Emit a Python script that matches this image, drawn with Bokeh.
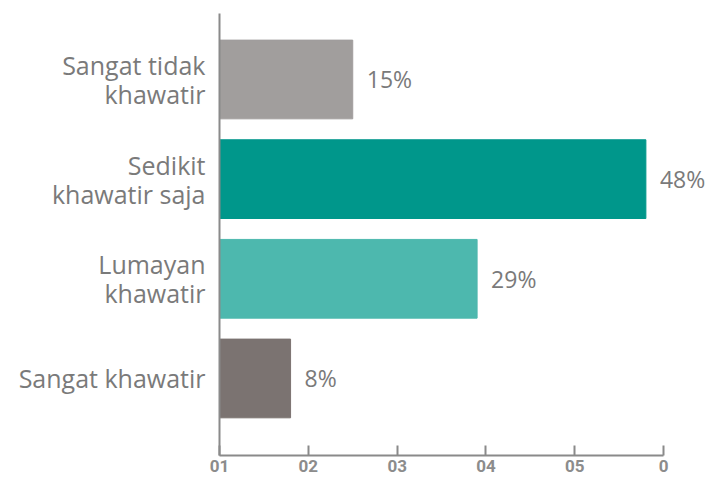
from bokeh.plotting import figure
from bokeh.models import Range1d, FixedTicker, ColumnDataSource
from bokeh.embed import file_html
from bokeh.resources import INLINE
from bokeh.core.properties import value

categories = ["Sangat tidak\nkhawatir", "Sedikit\nkhawatir saja", "Lumayan\nkhawatir", "Sangat khawatir"]
values = [15, 48, 29, 8]
value_labels = ["15%", "48%", "29%", "8%"]
colors = ["#a19e9d", "#00978b", "#4db8ae", "#7b7371"]
x_ticks = [0, 10, 20, 30, 40, 50]
x_tick_labels = ["01", "02", "03", "04", "05", "0"]

n = len(categories)
pos = [n - 1 - i for i in range(n)]  # top to bottom

src = ColumnDataSource(dict(cat=categories, val=values, lab=value_labels, col=colors, pos=pos))

FONT = "Open Sans"
GRAY = "#8a8a8a"

p = figure(width=712, height=483, output_backend="svg", toolbar_location=None,
           x_range=Range1d(0, 55.5), y_range=Range1d(-0.773, 3.662),
           min_border_left=219, min_border_right=0, min_border_top=13, min_border_bottom=28)

p.hbar(y="pos", right="val", left=0, height=0.79, color="col", source=src)
p.text(x="val", y="pos", text="lab", source=src, x_offset=14, text_align="left",
       text_baseline="middle", text_font=value(FONT), text_font_size="23px", text_color="#7a7a7a")

p.outline_line_color = None
p.xgrid.grid_line_color = None
p.ygrid.grid_line_color = None
p.background_fill_color = "white"

xa = p.xaxis[0]
xa.ticker = FixedTicker(ticks=x_ticks)
xa.major_label_overrides = {t: l for t, l in zip(x_ticks, x_tick_labels)}
xa.bounds = (0, 50)
xa.axis_line_color = GRAY
xa.axis_line_width = 2
xa.major_tick_line_color = GRAY
xa.major_tick_line_width = 2
xa.major_tick_in = 10
xa.major_tick_out = 0
xa.minor_tick_line_color = None
xa.major_label_text_align = "left"
xa.major_label_standoff = 4
xa.major_label_text_font = "Roboto"
xa.major_label_text_font_size = "17px"
xa.major_label_text_font_style = "bold"
xa.major_label_text_color = "#8c8c8c"

ya = p.yaxis[0]
ya.ticker = FixedTicker(ticks=pos)
ya.major_label_overrides = {pp: c for pp, c in zip(pos, categories)}
ya.axis_line_color = GRAY
ya.axis_line_width = 2
ya.major_tick_line_color = None
ya.minor_tick_line_color = None
ya.major_label_standoff = 8
ya.major_label_text_font = FONT
ya.major_label_text_font_size = "25px"
ya.major_label_text_line_height = 0.85
ya.major_label_text_color = "#7a7a7a"

open("out.html", "w").write(file_html(p, INLINE))
